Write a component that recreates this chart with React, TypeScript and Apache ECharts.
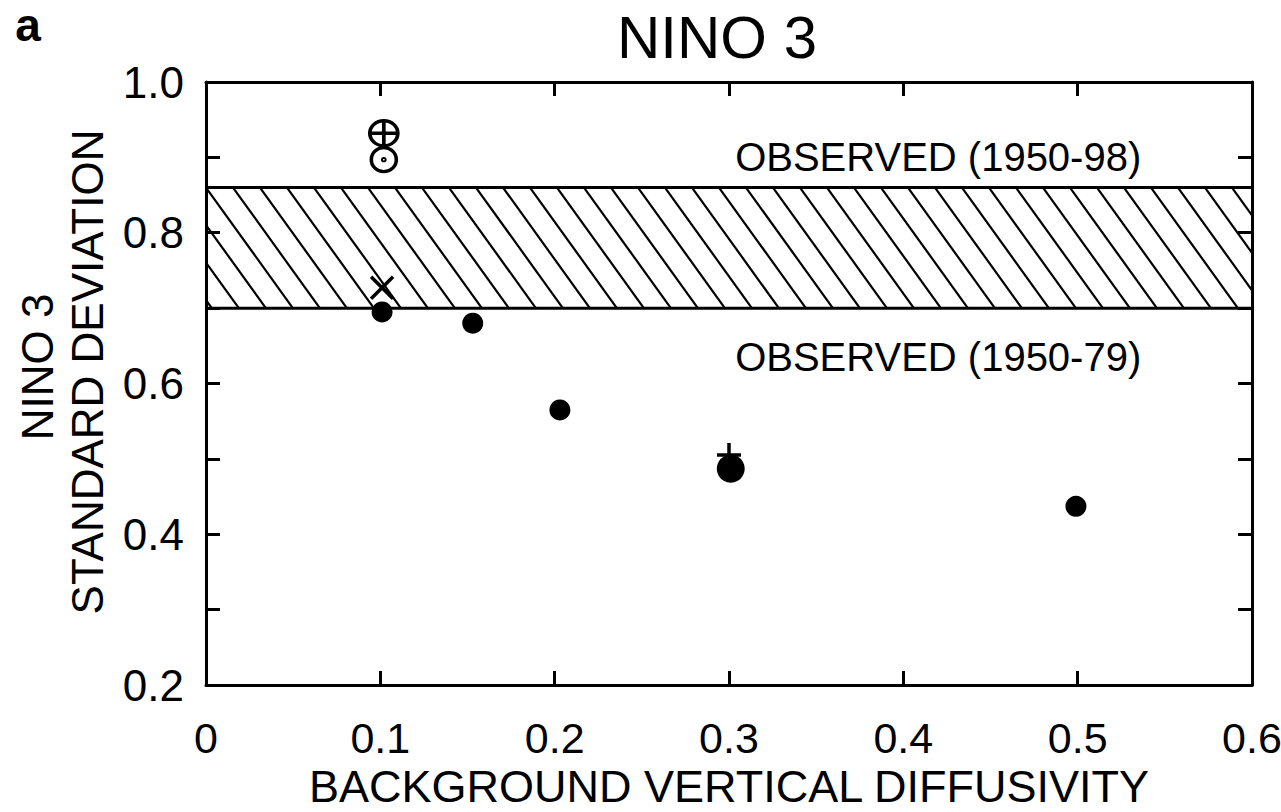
import React, { useEffect, useRef } from "react";
import * as echarts from "echarts";

// ---- data ----
const xMin = 0;
const xMax = 0.6;
const yMin = 0.2;
const yMax = 1.0;
const filledX = [0.101, 0.153, 0.203, 0.301, 0.499];
const filledY = [0.695, 0.68, 0.565, 0.487, 0.437];
const plusPoints = [[0.3, 0.505]];
const crossPoints = [[0.101, 0.727]];
const circlePlusPoints = [[0.102, 0.932]];
const circleDotPoints = [[0.102, 0.897]];
const observedBand = [0.7, 0.86]; // lower: 1950-79, upper: 1950-98
const bandLabels = ["OBSERVED (1950-98)", "OBSERVED (1950-79)"];
const bandLabelX = [0.42, 0.42];
const bandLabelY = [0.9, 0.635];
const titleText = "NINO 3";
const panelLetter = "a";
const yNameLines = ["NINO 3", "STANDARD DEVIATION"];
const xName = "BACKGROUND VERTICAL DIFFUSIVITY";

const FONT = "'Liberation Sans', Arial, Helvetica, sans-serif";

export default function App() {
  const ref = useRef<HTMLDivElement>(null);
  useEffect(() => {
    if (!ref.current) return;
    const chart = echarts.init(ref.current, undefined, { renderer: "svg" });

    const axisCommon = {
      type: "value" as const,
      axisLine: { onZero: false, lineStyle: { color: "#000", width: 3 } },
      axisTick: { inside: true, length: 14, lineStyle: { color: "#000", width: 3 } },
      splitLine: { show: false },
    };

    const option: any = {
      animation: false,
      backgroundColor: "#fff",
      textStyle: { fontFamily: FONT },
      grid: { left: 206, top: 82, width: 1046, height: 603, outerBoundsMode: "none", containLabel: false },
      xAxis: [
        {
          ...axisCommon,
          position: "bottom",
          min: xMin,
          max: xMax,
          interval: 0.1,
          axisLabel: {
            fontSize: 43,
            color: "#000",
            fontFamily: FONT,
            margin: 31,
            formatter: (v: number) => (v === 0 ? "0" : v.toFixed(1)),
          },
          name: xName,
          nameLocation: "middle",
          nameGap: 77,
          nameTextStyle: { fontSize: 45, color: "#000", fontFamily: FONT },
        },
        {
          ...axisCommon,
          position: "top",
          min: xMin,
          max: xMax,
          interval: 0.1,
          axisLabel: { show: false },
        },
      ],
      yAxis: [
        {
          ...axisCommon,
          position: "left",
          min: yMin,
          max: yMax,
          interval: 0.1,
          axisLabel: {
            fontSize: 44,
            color: "#000",
            fontFamily: FONT,
            margin: 22,
            formatter: (v: number) => (Math.round(v * 10) % 2 === 0 ? v.toFixed(1) : ""),
          },
        },
        {
          ...axisCommon,
          position: "right",
          min: yMin,
          max: yMax,
          interval: 0.1,
          axisLabel: { show: false },
        },
      ],
      graphic: [
        {
          type: "text",
          x: 717,
          y: 37,
          style: {
            text: titleText,
            fontSize: 60,
            fontFamily: FONT,
            fill: "#000",
            textAlign: "center",
            textVerticalAlign: "middle",
          },
        },
        {
          type: "text",
          x: 28,
          y: 25,
          style: {
            text: panelLetter,
            fontSize: 46,
            fontWeight: "bold",
            fontFamily: FONT,
            fill: "#000",
            textAlign: "center",
            textVerticalAlign: "middle",
          },
        },
        {
          type: "text",
          x: 37,
          y: 367,
          rotation: Math.PI / 2,
          style: {
            text: yNameLines[0],
            fontSize: 44,
            fontFamily: FONT,
            fill: "#000",
            textAlign: "center",
            textVerticalAlign: "middle",
          },
        },
        {
          type: "text",
          x: 87,
          y: 372,
          rotation: Math.PI / 2,
          style: {
            text: yNameLines[1],
            fontSize: 44,
            fontFamily: FONT,
            fill: "#000",
            textAlign: "center",
            textVerticalAlign: "middle",
          },
        },
      ],
      series: [
        {
          type: "custom",
          z: 1,
          silent: true,
          encode: { x: [0, 2], y: [1, 3] },
          data: [[xMin, observedBand[0], xMax, observedBand[1]]],
          renderItem: (params: any, api: any) => {
            const pTL = api.coord([api.value(0), api.value(3)]);
            const pBR = api.coord([api.value(2), api.value(1)]);
            const L = pTL[0], T = pTL[1], R = pBR[0], B = pBR[1];
            const h = B - T;
            const shift = 0.72 * h;
            const step = 27;
            const children: any[] = [];
            for (let xt = L - Math.ceil(shift / step) * step; xt <= R; xt += step) {
              const tMin = Math.max(0, (L - xt) / shift);
              const tMax = Math.min(1, (R - xt) / shift);
              if (tMin < tMax) {
                children.push({
                  type: "line",
                  shape: {
                    x1: xt + shift * tMin,
                    y1: T + h * tMin,
                    x2: xt + shift * tMax,
                    y2: T + h * tMax,
                  },
                  style: { stroke: "#000", lineWidth: 2.2 },
                });
              }
            }
            children.push({
              type: "line",
              shape: { x1: L, y1: T, x2: R, y2: T },
              style: { stroke: "#000", lineWidth: 3 },
            });
            children.push({
              type: "line",
              shape: { x1: L, y1: B, x2: R, y2: B },
              style: { stroke: "#000", lineWidth: 3 },
            });
            return { type: "group", children };
          },
        },
        {
          type: "scatter",
          z: 3,
          symbol: "path://M0 -1 L0 1 M-1 0 L1 0",
          symbolSize: 24,
          itemStyle: { color: "transparent", borderColor: "#000", borderWidth: 3.5, opacity: 1 },
          data: plusPoints,
        },
        {
          type: "scatter",
          z: 4,
          symbol: "circle",
          symbolSize: (_v: any, p: any) => (p.dataIndex === 3 ? 28 : 21),
          itemStyle: { color: "#000", opacity: 1 },
          data: filledX.map((x, i) => [x, filledY[i]]),
        },
        {
          type: "scatter",
          z: 3,
          symbol: "path://M-1 -1 L1 1 M-1 1 L1 -1",
          symbolSize: 22,
          itemStyle: { color: "transparent", borderColor: "#000", borderWidth: 3.5, opacity: 1 },
          data: crossPoints,
        },
        {
          type: "scatter",
          z: 3,
          symbol:
            "path://M-1 0 A1 1 0 1 0 1 0 A1 1 0 1 0 -1 0 Z M-1 0 L1 0 M0 -1 L0 1",
          symbolSize: [28, 25],
          itemStyle: { color: "transparent", borderColor: "#000", borderWidth: 3.5, opacity: 1 },
          data: circlePlusPoints,
        },
        {
          type: "scatter",
          z: 3,
          symbol:
            "path://M-1 0 A1 1 0 1 0 1 0 A1 1 0 1 0 -1 0 Z M-0.08 0 A0.08 0.08 0 1 0 0.08 0 A0.08 0.08 0 1 0 -0.08 0 Z",
          symbolSize: [25, 24],
          itemStyle: { color: "transparent", borderColor: "#000", borderWidth: 3.5, opacity: 1 },
          data: circleDotPoints,
        },
        {
          type: "scatter",
          z: 5,
          silent: true,
          symbolSize: 1,
          itemStyle: { color: "transparent", opacity: 1 },
          label: {
            show: true,
            position: "inside",
            formatter: (p: any) => p.name,
            fontSize: 40,
            color: "#000",
            opacity: 1,
            fontFamily: FONT,
          },
          data: bandLabels.map((name, i) => ({ name, value: [bandLabelX[i], bandLabelY[i]] })),
        },
      ],
    };

    chart.setOption(option);
    return () => chart.dispose();
  }, []);

  return (
    <div
      ref={ref}
      style={{ position: "fixed", left: 0, top: 0, width: 1281, height: 812, background: "#fff" }}
    />
  );
}
